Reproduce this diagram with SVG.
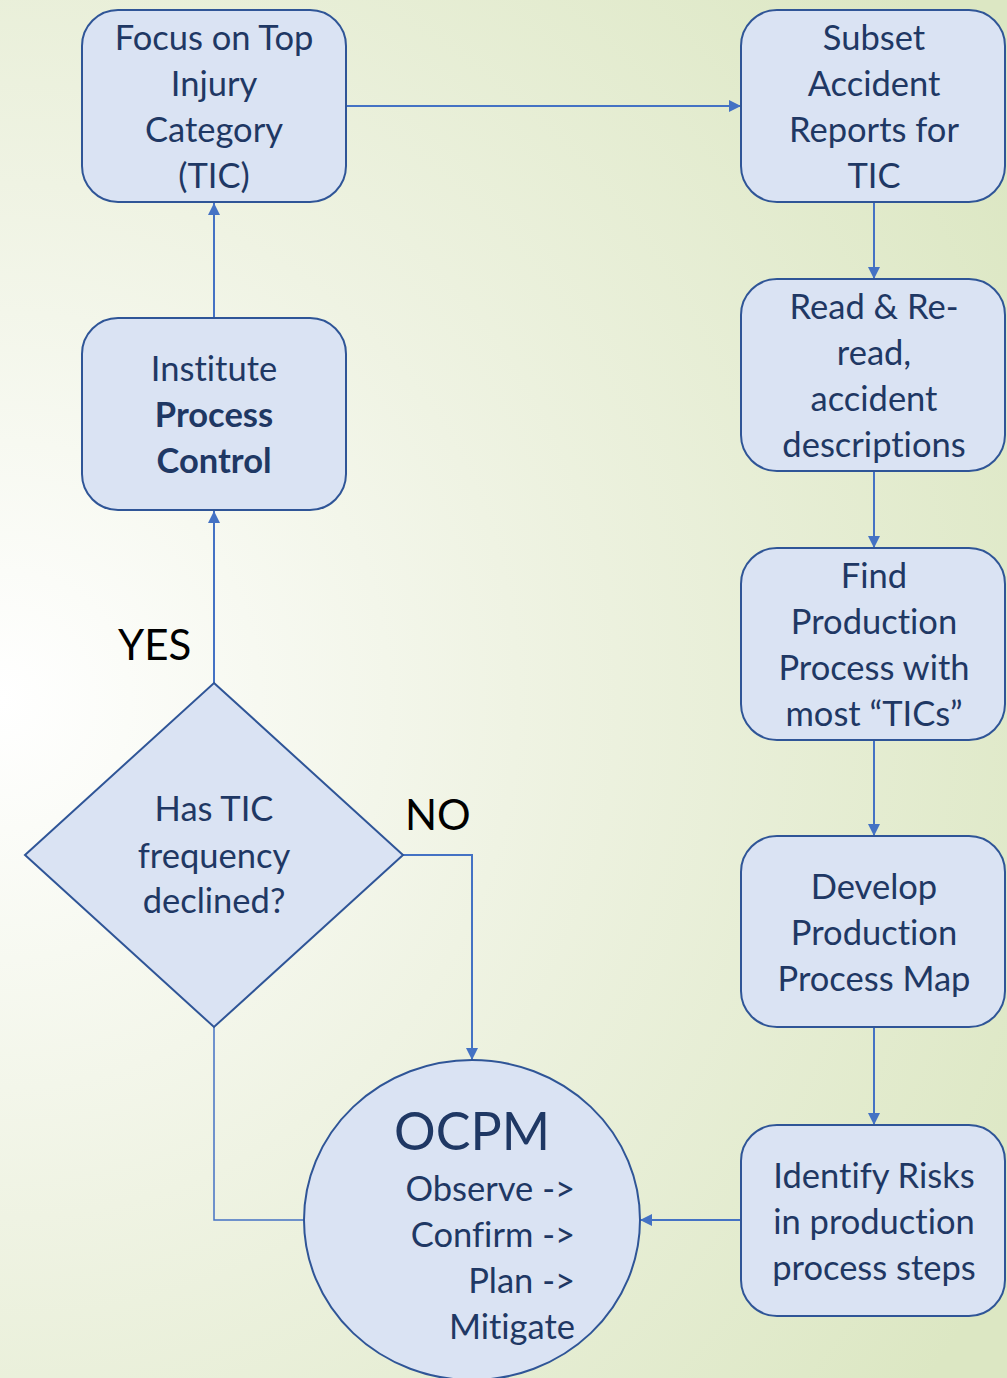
<svg xmlns="http://www.w3.org/2000/svg" width="1007" height="1378" viewBox="0 0 1007 1378">
<defs>
<radialGradient id="bg" cx="0" cy="700" r="1150" gradientUnits="userSpaceOnUse">
<stop offset="0" stop-color="#ffffff"/>
<stop offset="0.45" stop-color="#eff3e3"/>
<stop offset="1" stop-color="#dce7c3"/>
</radialGradient>
<marker id="ah" viewBox="0 0 10 10" refX="10" refY="5" markerWidth="6" markerHeight="6" orient="auto" markerUnits="strokeWidth">
<path d="M0,0 L10,5 L0,10 z" fill="#4472c4"/>
</marker>
<style>
.n{fill:#dae3f3;stroke:#2f5597;stroke-width:2}
.t{font-family:Lato,"Open Sans",sans-serif;font-size:34.5px;fill:#1f3864;text-anchor:middle;font-variant-ligatures:none}
.b{font-weight:bold}
.c{fill:none;stroke:#4472c4;stroke-width:2}
.l{font-family:Lato,"Liberation Sans",sans-serif;font-size:42px;fill:#000}
</style>
</defs>
<rect width="1007" height="1378" fill="url(#bg)"/>
<g id="connectors">
<path class="c" d="M346,106 H741" marker-end="url(#ah)"/>
<path class="c" d="M874,202 V279" marker-end="url(#ah)"/>
<path class="c" d="M874,471 V548" marker-end="url(#ah)"/>
<path class="c" d="M874,740 V836" marker-end="url(#ah)"/>
<path class="c" d="M874,1027 V1125" marker-end="url(#ah)"/>
<path class="c" d="M741,1220 H640" marker-end="url(#ah)"/>
<path class="c" d="M304,1220 H214 V1027" style="stroke-width:1.5"/>
<path class="c" d="M403,855 H472 V1060" marker-end="url(#ah)"/>
<path class="c" d="M214,683 V511" marker-end="url(#ah)"/>
<path class="c" d="M214,318 V203" marker-end="url(#ah)"/>
<text class="l" x="118" y="660">YES</text>
<text class="l" x="405" y="830">NO</text>
</g>
<g id="focus">
<rect class="n" x="82" y="10" width="264" height="192" rx="36"/>
<text class="t" x="214" y="50">Focus on Top</text>
<text class="t" x="214" y="96">Injury</text>
<text class="t" x="214" y="142">Category</text>
<text class="t" x="214" y="188">(TIC)</text>
</g>
<g id="subset">
<rect class="n" x="741" y="10" width="264" height="192" rx="36"/>
<text class="t" x="874" y="50">Subset</text>
<text class="t" x="874" y="96">Accident</text>
<text class="t" x="874" y="142">Reports for</text>
<text class="t" x="874" y="188">TIC</text>
</g>
<g id="read">
<rect class="n" x="741" y="279" width="264" height="192" rx="36"/>
<text class="t" x="874" y="319">Read &amp; Re-</text>
<text class="t" x="874" y="365">read,</text>
<text class="t" x="874" y="411">accident</text>
<text class="t" x="874" y="457">descriptions</text>
</g>
<g id="find">
<rect class="n" x="741" y="548" width="264" height="192" rx="36"/>
<text class="t" x="874" y="588">Find</text>
<text class="t" x="874" y="634">Production</text>
<text class="t" x="874" y="680">Process with</text>
<text class="t" x="874" y="726">most “TICs”</text>
</g>
<g id="develop">
<rect class="n" x="741" y="836" width="264" height="191" rx="36"/>
<text class="t" x="874" y="899">Develop</text>
<text class="t" x="874" y="945">Production</text>
<text class="t" x="874" y="991">Process Map</text>
</g>
<g id="identify">
<rect class="n" x="741" y="1125" width="264" height="191" rx="36"/>
<text class="t" x="874" y="1188">Identify Risks</text>
<text class="t" x="874" y="1234">in production</text>
<text class="t" x="874" y="1280">process steps</text>
</g>
<g id="institute">
<rect class="n" x="82" y="318" width="264" height="192" rx="36"/>
<text class="t" x="214" y="381">Institute</text>
<text class="t b" x="214" y="427">Process</text>
<text class="t b" x="214" y="473">Control</text>
</g>
<g id="decision">
<path class="n" d="M214,683 L403,855 L214,1027 L25,855 Z"/>
<text class="t" x="214" y="821">Has TIC</text>
<text class="t" x="214" y="868">frequency</text>
<text class="t" x="214" y="913">declined?</text>
</g>
<g id="ocpm">
<ellipse class="n" cx="472" cy="1220" rx="168" ry="160"/>
<text class="t" x="472" y="1150" style="font-size:52px">OCPM</text>
<text class="t" x="575" y="1201" style="text-anchor:end">Observe -&gt;</text>
<text class="t" x="575" y="1247" style="text-anchor:end">Confirm -&gt;</text>
<text class="t" x="575" y="1293" style="text-anchor:end">Plan -&gt;</text>
<text class="t" x="575" y="1339" style="text-anchor:end">Mitigate</text>
</g>
</svg>
